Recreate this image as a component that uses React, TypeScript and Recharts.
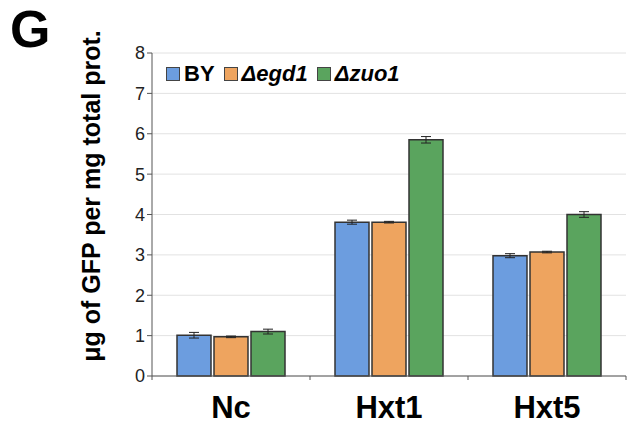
import React from 'react';
import { BarChart, Bar, XAxis, YAxis, CartesianGrid, ErrorBar, Legend } from 'recharts';

// Category labels and per-strain means / standard deviations
const categories = ['Nc', 'Hxt1', 'Hxt5'];
const byValues = [1.01, 3.81, 2.98];
const egd1Values = [0.97, 3.81, 3.07];
const zuo1Values = [1.1, 5.85, 4.0];
const byErrors = [0.07, 0.05, 0.05];
const egd1Errors = [0.02, 0.02, 0.02];
const zuo1Errors = [0.06, 0.08, 0.07];
const yTicks = [0, 1, 2, 3, 4, 5, 6, 7, 8];

const data = categories.map((name, i) => ({
  name,
  by: byValues[i],
  egd1: egd1Values[i],
  zuo1: zuo1Values[i],
  byErr: byErrors[i],
  egd1Err: egd1Errors[i],
  zuo1Err: zuo1Errors[i],
}));

const FONT = '"Liberation Sans", Arial, sans-serif';
const AXIS = '#555';

const series = [
  { key: 'by', err: 'byErr', label: 'BY', color: '#6c9ddf', italic: false },
  { key: 'egd1', err: 'egd1Err', label: 'Δegd1', color: '#eea45f', italic: true },
  { key: 'zuo1', err: 'zuo1Err', label: 'Δzuo1', color: '#5aa45e', italic: true },
];

// category label plus small ticks at the band edges
const CategoryTick = (props: any) => {
  const { x, y, payload } = props;
  const half = 79;
  return (
    <g>
      <line x1={x + half} y1={y - 8} x2={x + half} y2={y - 4} stroke={AXIS} />
      {payload.index === 0 && <line x1={x - half} y1={y - 8} x2={x - half} y2={y - 4} stroke={AXIS} />}
      <text
        x={x}
        y={y + 34}
        textAnchor="middle"
        fontFamily={FONT}
        fontWeight="bold"
        fontSize={31}
        fill="#000"
      >
        {payload.value}
      </text>
    </g>
  );
};

const LegendContent = () => (
  <div style={{ display: 'flex', alignItems: 'center', fontFamily: FONT, fontWeight: 'bold', fontSize: 22 }}>
    {series.map((s) => (
      <div key={s.key} style={{ display: 'flex', alignItems: 'center', marginRight: 9 }}>
        <span
          style={{
            display: 'inline-block',
            width: 12,
            height: 12,
            background: s.color,
            border: '1px solid #444',
            marginRight: 4,
          }}
        />
        <span style={{ fontStyle: s.italic ? 'italic' : 'normal' }}>{s.label}</span>
      </div>
    ))}
  </div>
);

const YLabel = () => (
  <text
    transform="translate(100, 196) rotate(-90)"
    textAnchor="middle"
    fontFamily={FONT}
    fontWeight="bold"
    fontSize={25}
    fill="#000"
  >
    μg of GFP per mg total prot.
  </text>
);

export default function App() {
  return (
    <div style={{ position: 'absolute', left: 0, top: 0, width: 630, height: 427, background: '#fff' }}>
      <svg width={80} height={60} style={{ position: 'absolute', left: 0, top: 0 }}>
        <text x={10} y={47} fontFamily={FONT} fontWeight="bold" fontSize={52} fill="#000">
          G
        </text>
      </svg>
      <BarChart
        width={630}
        height={427}
        data={data}
        margin={{ top: 53, right: 4, left: 102, bottom: 0 }}
        barCategoryGap={25}
        barGap={3}
      >
        <CartesianGrid vertical={false} stroke="#e2e2e2" />
        <XAxis
          dataKey="name"
          axisLine={{ stroke: AXIS }}
          tickLine={false}
          height={51}
          tick={<CategoryTick />}
        />
        <YAxis
          width={50}
          domain={[0, 8]}
          ticks={yTicks}
          axisLine={{ stroke: AXIS }}
          tickLine={{ stroke: AXIS }}
          tickSize={5}
          tick={{ fill: '#222', fontSize: 18, fontFamily: FONT }}
          label={<YLabel />}
        />
        {/* middle alignment keeps the legend from shrinking the plot area */}
        <Legend
          layout="horizontal"
          verticalAlign="middle"
          content={<LegendContent />}
          wrapperStyle={{ position: 'absolute', top: 61, left: 166, width: 320 }}
        />
        {series.map((s) => (
          <Bar
            key={s.key}
            dataKey={s.key}
            fill={s.color}
            stroke="#333"
            strokeWidth={1.5}
            isAnimationActive={false}
          >
            <ErrorBar dataKey={s.err} width={5} stroke="#222" strokeWidth={1} />
          </Bar>
        ))}
      </BarChart>
    </div>
  );
}
